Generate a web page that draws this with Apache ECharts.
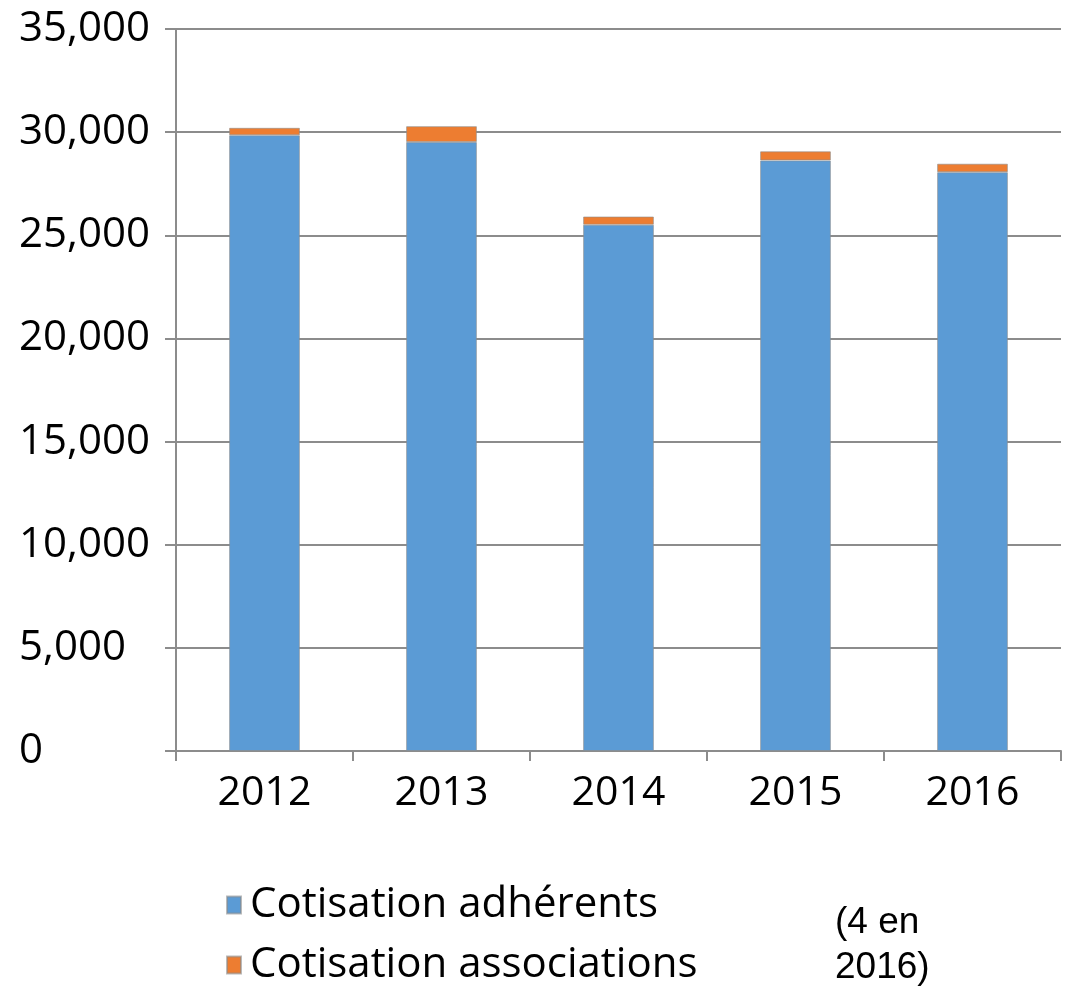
<!DOCTYPE html>
<html>
<head>
<meta charset="utf-8">
<script src="https://cdn.jsdelivr.net/npm/echarts@6/dist/echarts.min.js"></script>
<style>
html,body{margin:0;padding:0;background:#fff;}
#c{width:1077px;height:987px;}
</style>
</head>
<body>
<div id="c"></div>
<script>
const categories = ['2012', '2013', '2014', '2015', '2016'];
const adherents = [29850, 29520, 25510, 28630, 28060];
const associations = [360, 770, 400, 440, 410];
const seriesNames = ['Cotisation adhérents', 'Cotisation associations'];
const yTicks = [0, 5000, 10000, 15000, 20000, 25000, 30000, 35000];
const noteText = '(4 en\n2016)';

const chart = echarts.init(document.getElementById('c'), null, {renderer: 'canvas'});
const fmt = v => v.toLocaleString('en-US');
const legendText = {fontFamily: 'Open Sans', fontSize: 42, color: '#000', lineHeight: 44, padding: [0, 0, 0, 4]};
chart.setOption({
  animation: false,
  backgroundColor: '#ffffff',
  grid: {left: 176, right: 16, top: 29, bottom: 236, containLabel: false},
  legend: [
    {
      left: 226, top: 883, padding: 0,
      itemWidth: 14, itemHeight: 17, icon: 'rect',
      data: [seriesNames[0]], textStyle: legendText
    },
    {
      left: 226, top: 943, padding: 0,
      itemWidth: 14, itemHeight: 17, icon: 'rect',
      data: [seriesNames[1]], textStyle: legendText
    }
  ],
  xAxis: {
    type: 'category',
    data: categories,
    axisLine: {lineStyle: {color: '#8c8c8c', width: 2}},
    axisTick: {show: true, length: 10, lineStyle: {color: '#8c8c8c', width: 2}},
    axisLabel: {fontFamily: 'Open Sans', fontSize: 41, color: '#000', margin: 22}
  },
  yAxis: {
    type: 'value',
    min: yTicks[0],
    max: yTicks[yTicks.length - 1],
    interval: yTicks[1] - yTicks[0],
    axisLine: {show: true, lineStyle: {color: '#8c8c8c', width: 2}},
    axisTick: {show: true, length: 11, lineStyle: {color: '#8c8c8c', width: 2}},
    splitLine: {lineStyle: {color: '#8c8c8c', width: 2}},
    axisLabel: {
      fontFamily: 'Open Sans', fontSize: 42, color: '#000',
      align: 'left', margin: 157,
      formatter: v => fmt(v)
    }
  },
  series: [
    {
      name: seriesNames[0], type: 'bar', stack: 'total', data: adherents,
      barWidth: '40%',
      itemStyle: {color: '#5B9BD5', borderColor: 'rgba(140,140,140,0.6)', borderWidth: 1}
    },
    {
      name: seriesNames[1], type: 'bar', stack: 'total', data: associations,
      barWidth: '40%',
      itemStyle: {color: '#ED7D31', borderColor: 'rgba(140,140,140,0.6)', borderWidth: 1}
    }
  ],
  graphic: [{
    type: 'text',
    left: 835,
    top: 900,
    style: {text: noteText, fontFamily: 'Liberation Sans', fontSize: 37, lineHeight: 45, fill: '#000'}
  }]
});
</script>
</body>
</html>
